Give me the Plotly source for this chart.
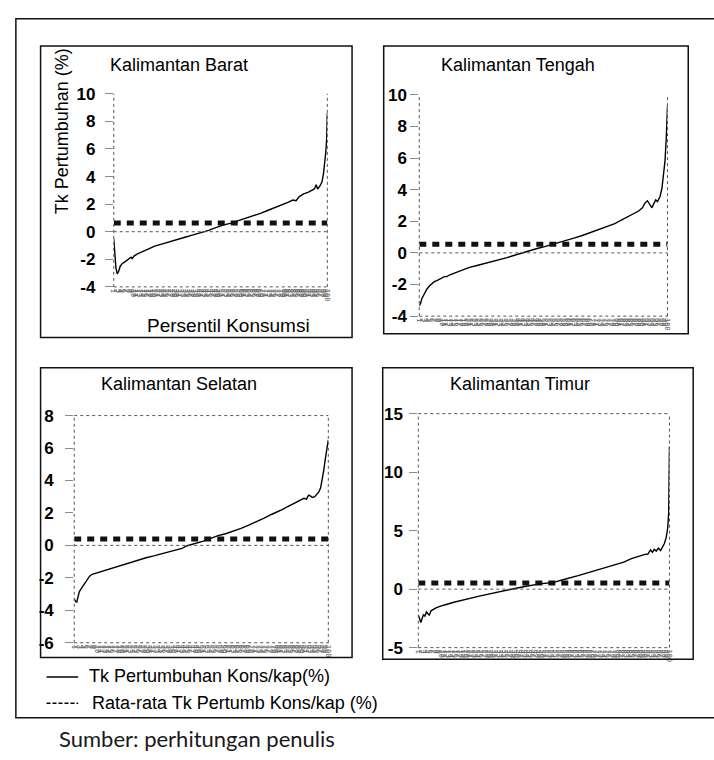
import plotly.graph_objects as go

W, H = 714, 760

# ---------------- data ----------------
panel_titles = ["Kalimantan Barat", "Kalimantan Tengah", "Kalimantan Selatan", "Kalimantan Timur"]

barat_pct = [1, 1.5, 2, 2.6, 3.2, 4, 5, 6, 7, 8, 9, 9.5, 10.5, 12, 14, 16, 18, 20, 22, 25, 28, 31, 34, 37,
             40, 43, 45, 47, 49.5, 52, 55, 57, 60, 63, 66, 69, 72, 75, 78, 80, 82, 84, 85.5, 87, 89, 91,
             92.5, 94, 94.8, 95.5, 96.5, 97.5, 98.2, 98.8, 99.3, 99.7, 100]
barat_val = [-0.5, -1.8, -2.6, -3.05, -2.9, -2.5, -2.3, -2.2, -2.08, -2.0, -1.85, -1.95, -1.75, -1.6, -1.45,
             -1.32, -1.2, -1.05, -0.95, -0.8, -0.65, -0.52, -0.4, -0.27, -0.15, 0.0, 0.1, 0.22, 0.38, 0.5,
             0.6, 0.7, 0.85, 1.0, 1.15, 1.33, 1.52, 1.7, 1.9, 2.05, 2.15, 2.3, 2.25, 2.55, 2.75, 2.85,
             2.95, 3.1, 3.4, 3.1, 3.3, 3.6, 4.2, 5.0, 5.8, 6.8, 8.6]

tengah_pct = [1, 1.5, 2, 3, 4, 5, 6, 7, 8, 9, 10, 11, 12, 13, 15, 17, 19, 21, 24, 27, 30, 33, 36, 39, 42,
              45, 48, 51, 54, 57, 60, 63, 66, 69, 72, 75, 77, 79, 81, 83, 85, 87, 88.5, 90, 91, 92, 93,
              93.8, 94.5, 95.3, 96, 97, 97.8, 98.5, 99, 99.5, 100]
tengah_val = [-3.35, -3.2, -2.9, -2.55, -2.3, -2.1, -1.95, -1.82, -1.75, -1.65, -1.6, -1.5, -1.5, -1.4,
              -1.28, -1.15, -1.02, -0.92, -0.8, -0.68, -0.56, -0.42, -0.3, -0.15, 0.0, 0.15, 0.28, 0.4,
              0.53, 0.65, 0.8, 0.95, 1.1, 1.28, 1.45, 1.6, 1.75, 1.85, 2.02, 2.18, 2.35, 2.5, 2.65, 2.85,
              3.15, 3.3, 3.05, 2.85, 3.1, 3.35, 3.25, 3.55, 4.1, 4.9, 5.8, 7.2, 9.3]

selatan_pct = [1, 1.5, 2, 2.5, 3, 4, 5, 6, 7, 8, 10, 12, 14, 16, 18, 20, 23, 26, 29, 32, 35, 38, 41, 43,
               45, 48, 51, 54, 57, 60, 63, 66, 69, 72, 75, 78, 80, 82, 84, 86, 88, 89.5, 90.5, 91.5, 92.3,
               93, 93.8, 94.7, 95.5, 96.3, 97, 97.6, 98.2, 98.8, 99.4, 100]
selatan_val = [-3.3, -3.45, -3.5, -3.2, -2.85, -2.6, -2.35, -2.1, -1.9, -1.78, -1.68, -1.57, -1.5, -1.38,
               -1.28, -1.18, -1.02, -0.9, -0.76, -0.65, -0.53, -0.4, -0.25, -0.18, -0.02, 0.1, 0.25, 0.42,
               0.6, 0.72, 0.88, 1.05, 1.25, 1.45, 1.68, 1.92, 2.05, 2.2, 2.38, 2.55, 2.7, 2.82, 2.9, 2.85,
               3.1, 3.05, 2.95, 3.0, 3.12, 3.3, 3.55, 4.0, 4.6, 5.3, 5.9, 6.5]

timur_pct = [1, 1.5, 2, 2.5, 3, 3.6, 4.2, 4.8, 5.3, 6, 7, 8, 9.5, 11, 13, 15, 17, 19, 21, 23, 25, 28, 31,
             34, 37, 40, 43, 46, 49, 52, 55, 58, 61, 64, 67, 70, 73, 76, 79, 82, 85, 88, 90, 91.5, 92.5,
             93.3, 94, 94.8, 95.6, 96.5, 97.3, 98, 98.7, 99.3, 99.7, 100]
timur_val = [-2.2, -2.6, -2.85, -2.5, -2.2, -2.3, -1.95, -2.1, -2.25, -1.85, -1.7, -1.6, -1.48, -1.4,
             -1.25, -1.12, -1.0, -0.93, -0.82, -0.7, -0.6, -0.45, -0.32, -0.18, -0.05, 0.1, 0.22, 0.35,
             0.45, 0.52, 0.62, 0.8, 0.95, 1.15, 1.35, 1.55, 1.75, 1.95, 2.15, 2.3, 2.6, 2.85, 2.95, 3.0,
             3.35, 3.15, 3.4, 3.25, 3.5, 3.3, 3.6, 3.9, 4.4, 5.2, 6.5, 12.2]

mean_growth = [0.63, 0.55, 0.40, 0.53]
y_ranges = [[-4, 10], [-4, 10], [-6, 8], [-5, 15]]
y_ticks = [[-4, -2, 0, 2, 4, 6, 8, 10], [-4, -2, 0, 2, 4, 6, 8, 10],
           [-6, -4, -2, 0, 2, 4, 6, 8], [-5, 0, 5, 10, 15]]
percentiles = list(range(1, 101))
percentile_labels = [str(p) for p in percentiles]

series = [(barat_pct, barat_val), (tengah_pct, tengah_val),
          (selatan_pct, selatan_val), (timur_pct, timur_val)]

legend_labels = ["Tk Pertumbuhan Kons/kap(%)", "Rata-rata Tk Pertumb Kons/kap (%)"]
y_title = "Tk Pertumbuhan (%)"
x_title = "Persentil Konsumsi"
source_note = "Sumber: perhitungan penulis"

# ---------------- layout geometry (pixels) ----------------
plot_px = [(111, 327, 87, 285), (420, 671, 88, 315), (71, 328, 417, 650), (419, 673, 415, 655)]
box_px = [(37, 38, 352, 337), (384, 38, 692, 333), (37, 368, 352, 665), (383, 368, 697, 667)]
title_px = [(177, 57), (520, 57), (177, 385), (522, 385)]
label_standoff = [6, 0, 8, 3]
top_dotted = [False, False, True, True]


def xp(px):
    return px / W


def yp(py):
    return 1 - py / H


FONT = "Liberation Sans, Arial, sans-serif"
fig = go.Figure()
layout = dict(width=W, height=H, margin=dict(l=0, r=0, t=0, b=0),
              paper_bgcolor="white", plot_bgcolor="rgba(0,0,0,0)", showlegend=False,
              font=dict(family=FONT, color="black"))
shapes = []
annotations = []

for i in range(4):
    sfx = "" if i == 0 else str(i + 1)
    xa, ya = "x" + sfx, "y" + sfx
    x0, x1, y0, y1 = plot_px[i]
    pct, val = series[i]
    fig.add_trace(go.Scatter(x=pct, y=val, mode="lines", xaxis=xa, yaxis=ya,
                             line=dict(color="black", width=1.4), hoverinfo="skip"))
    fig.add_trace(go.Scatter(x=[percentiles[0], percentiles[-1]], y=[mean_growth[i]] * 2, mode="lines",
                             xaxis=xa, yaxis=ya,
                             line=dict(color="#111", width=5, dash="7px,6px"), hoverinfo="skip"))
    layout["xaxis" + sfx] = dict(domain=[xp(x0), xp(x1)], range=[1, 100], showgrid=False, zeroline=False,
                                 showline=False, tickmode="array", tickvals=percentiles,
                                 ticktext=percentile_labels, tickangle=90, ticks="",
                                 ticklabelstandoff=1,
                                 tickfont=dict(size=7, color="#666", family="DejaVu Sans Mono, monospace"),
                                 anchor=ya)
    layout["yaxis" + sfx] = dict(domain=[yp(y1), yp(y0)], range=y_ranges[i], showgrid=False,
                                 zeroline=False, showline=False, tickmode="array", tickvals=y_ticks[i],
                                 ticktext=["%g" % v for v in y_ticks[i]],
                                 ticks="outside", ticklen=8, tickcolor="#888", tickwidth=1,
                                 ticklabelstandoff=label_standoff[i],
                                 tickfont=dict(size=17, family="Liberation Sans", color="black", weight=700),
                                 anchor=xa)
    dot = dict(color="#555", width=1, dash="dot")
    xd, yd = xa + " domain", ya + " domain"
    shapes.append(dict(type="line", xref=xd, yref=yd, x0=0, x1=0, y0=0, y1=1, line=dot))
    shapes.append(dict(type="line", xref=xd, yref=yd, x0=1, x1=1, y0=0, y1=1, line=dot))
    shapes.append(dict(type="line", xref=xd, yref=yd, x0=0, x1=1, y0=0, y1=0, line=dot))
    shapes.append(dict(type="line", xref=xd, yref=ya, x0=0, x1=1, y0=0, y1=0, line=dot))
    if top_dotted[i]:
        shapes.append(dict(type="line", xref=xd, yref=yd, x0=0, x1=1, y0=1, y1=1, line=dot))
    bx0, by0, bx1, by1 = box_px[i]
    shapes.append(dict(type="rect", xref="paper", yref="paper", x0=xp(bx0), x1=xp(bx1),
                       y0=yp(by1), y1=yp(by0), line=dict(color="#111", width=1.5)))
    tx, ty = title_px[i]
    annotations.append(dict(text=panel_titles[i], x=xp(tx), y=yp(ty), xref="paper", yref="paper",
                            showarrow=False, xanchor="center", yanchor="middle",
                            font=dict(size=18, family=FONT, color="black")))

# outer frame
shapes.append(dict(type="rect", xref="paper", yref="paper", x0=xp(12), x1=1.02, y0=yp(727), y1=yp(10),
                   line=dict(color="#111", width=1.5)))

# axis titles (panel 1)
annotations.append(dict(text=y_title, x=xp(59), y=yp(125), xref="paper", yref="paper", showarrow=False,
                        textangle=-90, xanchor="center", yanchor="middle",
                        font=dict(size=18, family=FONT, color="black")))
annotations.append(dict(text=x_title, x=xp(227), y=yp(325), xref="paper", yref="paper", showarrow=False,
                        xanchor="center", yanchor="middle",
                        font=dict(size=19, family=FONT, color="black")))

# legend
shapes.append(dict(type="line", xref="paper", yref="paper", x0=xp(43), x1=xp(75), y0=yp(685), y1=yp(685),
                   line=dict(color="black", width=1.5)))
shapes.append(dict(type="line", xref="paper", yref="paper", x0=xp(43), x1=xp(75), y0=yp(712), y1=yp(712),
                   line=dict(color="black", width=1.5, dash="4px,2px")))
annotations.append(dict(text=legend_labels[0], x=xp(84), y=yp(684), xref="paper", yref="paper",
                        showarrow=False, xanchor="left", yanchor="middle",
                        font=dict(size=18, family=FONT, color="black")))
annotations.append(dict(text=legend_labels[1], x=xp(87), y=yp(712), xref="paper", yref="paper",
                        showarrow=False, xanchor="left", yanchor="middle",
                        font=dict(size=18, family=FONT, color="black")))

# source
annotations.append(dict(text=source_note, x=xp(54), y=yp(748), xref="paper", yref="paper",
                        showarrow=False, xanchor="left", yanchor="middle",
                        font=dict(size=22, family="Lato, Open Sans, sans-serif", color="#1a1a1a")))

layout["shapes"] = shapes
layout["annotations"] = annotations
fig.update_layout(**layout)
fig.write_html("out.html")
